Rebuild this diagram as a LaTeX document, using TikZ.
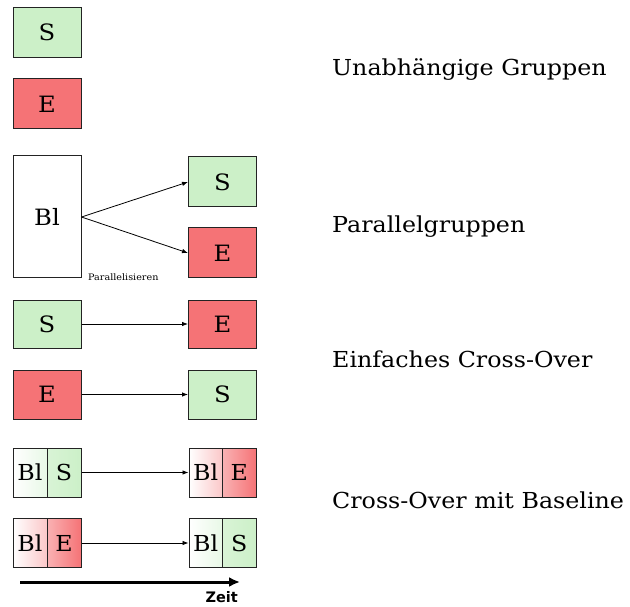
\documentclass[tikz,border=0pt]{standalone}
\usepackage{fontspec}
\setmainfont{DejaVu Serif}[FakeStretch=1.08]
\newfontfamily\zeitfont{DejaVu Sans}
\usetikzlibrary{arrows.meta}
\definecolor{sgreen}{RGB}{204,240,200}
\definecolor{ered}{RGB}{245,115,118}
\definecolor{bordergray}{RGB}{35,35,35}
\begin{document}
\begin{tikzpicture}[x=1pt,y=-1pt,
 box/.style={draw=bordergray, line width=1pt, rectangle, inner sep=0pt, minimum width=68pt, minimum height=50pt, font=\fontsize{22.5}{24}\selectfont},
 gbox/.style={box, fill=sgreen},
 rbox/.style={box, fill=ered},
 half/.style={draw=bordergray, line width=1pt, rectangle, inner sep=0pt, minimum width=34pt, minimum height=49pt, font=\fontsize{22}{24}\selectfont},
 gbl/.style={half, left color=white, right color=sgreen!45!white},
 glet/.style={half, left color=sgreen!75!white, right color=sgreen},
 rbl/.style={half, left color=white, right color=ered!40!white},
 rlet/.style={half, left color=ered!55!white, right color=ered},
 conn/.style={-{Latex[length=6pt,width=4.5pt]}, line width=0.8pt},
 grouplabel/.style={anchor=base west, inner sep=0pt, font=\fontsize{22}{24}\selectfont}]
\useasboundingbox (0,0) rectangle (630,607);

% Unabhaengige Gruppen
\node[gbox] (s1) at (47,32.5) {S};
\node[rbox] (e1) at (47,104) {E};

% Parallelgruppen
\node[box, minimum height=122pt] (bl) at (47,217) {Bl};
\node[gbox] (s2) at (222.5,182) {S};
\node[rbox] (e2) at (222.5,253) {E};
\draw[conn] (bl.east) -- (s2.west);
\draw[conn] (bl.east) -- (e2.west);
\node[anchor=base west, inner sep=0pt, font=\fontsize{8.9}{10}\selectfont] (par) at (88,280) {Parallelisieren};

% Einfaches Cross-Over
\node[gbox, minimum height=48pt] (s3) at (47,324) {S};
\node[rbox, minimum height=48pt] (e3) at (222.5,324) {E};
\draw[conn] (s3.east) -- (e3.west);
\node[rbox, minimum height=49pt] (e4) at (47,394.5) {E};
\node[gbox, minimum height=49pt] (s4) at (222.5,394.5) {S};
\draw[conn] (e4.east) -- (s4.west);

% Cross-Over mit Baseline
\node[gbl] (b5l) at (30,472.5) {Bl};
\node[glet] (s5) at (64,472.5) {S};
\node[rbl, minimum width=33.5pt] (b5r) at (205.75,472.5) {Bl};
\node[rlet, minimum width=33.5pt] (e5) at (239.25,472.5) {E};
\draw[conn] (s5.east) -- (b5r.west);

\node[rbl] (b6l) at (30,543) {Bl};
\node[rlet] (e6) at (64,543) {E};
\node[gbl, minimum width=33.5pt] (b6r) at (205.75,543) {Bl};
\node[glet, minimum width=33.5pt] (s6) at (239.25,543) {S};
\draw[conn] (e6.east) -- (b6r.west);

% Zeitachse
\coordinate (t0) at (20,582);
\coordinate (t1) at (240,582);
\draw[line width=3pt, -{Latex[length=11pt,width=10pt]}] (t0) -- (t1);
\node[anchor=base east, inner sep=0pt, font=\zeitfont\bfseries\fontsize{14.5}{16}\selectfont] (zeit) at (238,602) {Zeit};

% Beschriftungen
\node[grouplabel] (l1) at (332,76) {Unabhängige Gruppen};
\node[grouplabel] (l2) at (332,233) {Parallelgruppen};
\node[grouplabel] (l3) at (332,367) {Einfaches Cross-Over};
\node[grouplabel] (l4) at (332,508) {Cross-Over mit Baseline};
\end{tikzpicture}
\end{document}
